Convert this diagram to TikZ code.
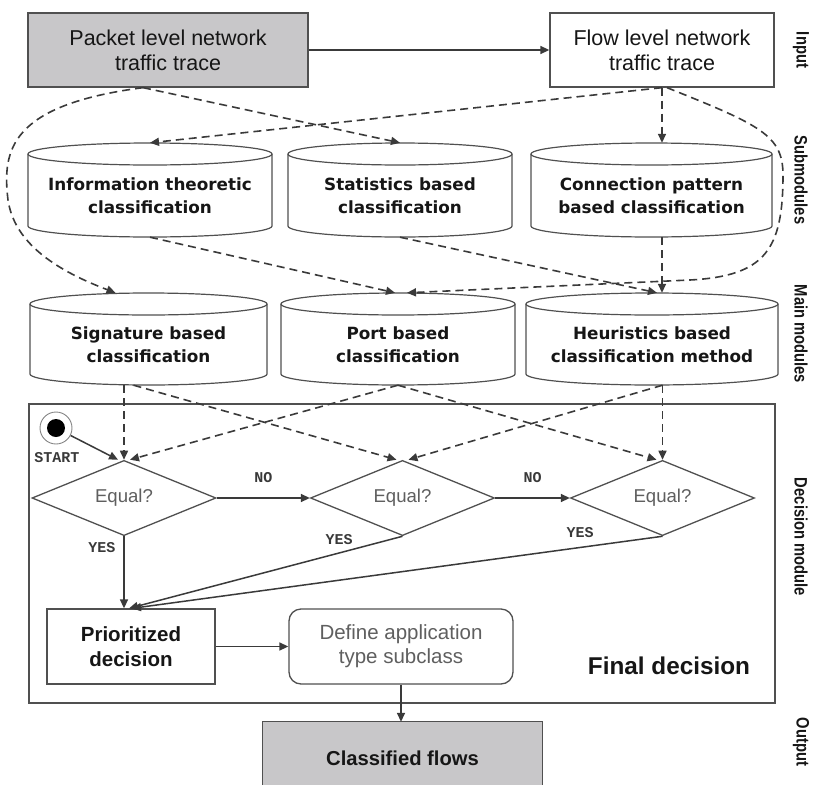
\documentclass[tikz,border=0pt]{standalone}
\usepackage{fontspec}
\setmainfont{Liberation Sans}
\newfontfamily\cylfont{DejaVu Sans}
\newfontfamily\tagfont{Liberation Mono}
\newfontfamily\narrowfont[FakeStretch=0.82]{Liberation Sans}
\usetikzlibrary{arrows.meta,shapes.geometric,calc}

\definecolor{boxgray}{RGB}{200,199,201}
\definecolor{linegray}{RGB}{80,80,80}
\definecolor{dashgray}{RGB}{58,58,58}
\definecolor{inkdark}{RGB}{22,22,22}
\definecolor{softtext}{RGB}{95,95,95}

\tikzset{
  boxline/.style={draw=linegray, line width=1.3pt},
  tracebox/.style={boxline, minimum height=74pt, inner sep=0pt, align=center,
    text=inkdark, font=\fontsize{21.5}{25}\selectfont},
  cylline/.style={draw=linegray, line width=1.2pt},
  cylbody/.style={draw=none, inner sep=0pt},
  cyltext/.style={inner sep=0pt, align=center, text=inkdark,
    font=\cylfont\bfseries\fontsize{16.8}{23}\selectfont},
  conn/.style={draw=dashgray, line width=1.5pt, -{Triangle[length=9pt,width=8pt]}},
  dashconn/.style={conn, line width=1.6pt, dash pattern=on 8pt off 5pt},
  decide/.style={diamond, boxline, fill=white, minimum width=184pt, minimum height=73pt,
    inner sep=0pt, text=softtext, font=\fontsize{18.6}{20}\selectfont},
  tagtext/.style={inner sep=0pt, text=inkdark!85, font=\tagfont\bfseries\fontsize{15}{15}\selectfont},
  sidetag/.style={inner sep=0pt, rotate=-90, text=inkdark,
    font=\narrowfont\bfseries\fontsize{18}{18}\selectfont},
}

% cylinder: name, left, right, top, bottom, label
\newcommand\cylbox[6]{%
  \pgfmathsetmacro\cylrx{(#3-#2)/2}
  \draw[cylline, fill=white] (#2,#4+11) -- (#2,#5-11)
     arc[start angle=180, end angle=360, x radius=\cylrx pt, y radius=11pt]
     -- (#3,#4+11)
     arc[start angle=0, end angle=180, x radius=\cylrx pt, y radius=11pt] -- cycle;
  \draw[cylline] (#2,#4+11)
     arc[start angle=180, end angle=360, x radius=\cylrx pt, y radius=11pt];
  \node[cylbody, minimum width={(#3-#2)*1pt}, minimum height={(#5-#4)*1pt}]
     (#1) at ({(#2+#3)/2},{(#4+#5)/2}) {};
  \node[cyltext] (#1-label) at ({(#2+#3)/2},{(#4+11+#5)/2}) {#6};
}

\begin{document}
\begin{tikzpicture}[x=1pt, y=-1pt]
\useasboundingbox (0,0) rectangle (815,785);

% input traces
\node[tracebox, fill=boxgray, minimum width=280pt] (packet) at (168,50) {Packet level network\\traffic trace};
\node[tracebox, fill=white, minimum width=224pt] (flow) at (662,50) {Flow level network\\traffic trace};

% submodules
\cylbox{info}{28}{272}{143}{237}{Information theoretic\\classification}
\cylbox{stat}{288}{512}{143}{237}{Statistics based\\classification}
\cylbox{conn}{531}{772}{143}{237}{Connection pattern\\based classification}

% main modules
\cylbox{sig}{30}{267}{293}{385}{Signature based\\classification}
\cylbox{port}{281}{515}{293}{385}{Port based\\classification}
\cylbox{heur}{526}{778}{293}{385}{Heuristics based\\classification method}

% decision module
\node[boxline, minimum width=746pt, minimum height=299pt, inner sep=0pt] (decisionframe) at (402,553.5) {};
\node[circle, draw=linegray!70, line width=0.9pt, minimum size=32pt, inner sep=0pt] (start) at (56,428) {};
\fill[black] (start.center) circle[radius=9pt];
\node[tagtext] (startlabel) at (57,458) {START};

\node[decide] (D1) at (124,498) {Equal?};
\node[decide] (D2) at (402.5,498) {Equal?};
\node[decide] (D3) at (662.5,498) {Equal?};

\node[boxline, fill=white, minimum width=168pt, minimum height=75pt, inner sep=0pt, align=center,
  text=inkdark, font=\bfseries\fontsize{20.5}{25}\selectfont] (prio) at (131,646.5) {Prioritized\\decision};
\node[boxline, rounded corners=12pt, fill=white, minimum width=224pt, minimum height=75pt, inner sep=0pt,
  align=center, text=softtext, font=\fontsize{20.5}{24}\selectfont] (define) at (401,646.5) {Define application\\type subclass};
\node[inner sep=0pt, text=inkdark, font=\bfseries\fontsize{24.3}{26}\selectfont] (finaltext) at (669,666) {Final decision};

% output
\node[fill=boxgray, minimum width=279pt, minimum height=63pt, inner sep=0pt, text=inkdark,
  text height=23.7pt, text depth=0pt, font=\bfseries\fontsize{20.2}{22}\selectfont] (classified) at (402.5,753.5) {Classified flows};
\draw[boxline] (classified.south west) -- (classified.north west) -- (classified.north east) -- (classified.south east);

% stage tags on the right
\node[sidetag] (tag-input) at (801,50) {Input};
\node[sidetag] (tag-sub) at (801,180) {Submodules};
\node[sidetag] (tag-main) at (801,334) {Main modules};
\node[sidetag] (tag-decision) at (801,537) {Decision module};
\node[sidetag] (tag-output) at (801,742) {Output};

% traces to submodules and main modules
\draw[conn] (packet) -- (flow);
\draw[dashconn] ([xshift=-25pt]packet.south) -- (stat.north);
\draw[dashconn] ([xshift=-25pt]packet.south) .. controls (10,105) and (2,150) .. (8,200)
   .. controls (14,240) and (50,268) .. ([xshift=-33pt]sig.north);
\draw[dashconn] (flow.south) -- (info.north);
\draw[dashconn] (flow.south) -- (flow.south |- conn.north);
\draw[dashconn] ([xshift=5pt]flow.south) .. controls (760,125) and (783,135) .. (783,175)
   .. controls (783,250) and (765,276) .. (690,280) -- ([xshift=9pt]port.north);

% submodules to main modules
\draw[dashconn] (info.south) -- ([xshift=-3pt]port.north);
\draw[dashconn] (stat.south) -- ($(flow.south |- heur.north)+(-5,0)$);
\draw[dashconn] (flow.south |- conn.south) -- (flow.south |- heur.north);

% main modules to decisions
\draw[dashconn] (D1.north |- sig.south) -- (D1.north);
\draw[dashconn] ([xshift=-15pt]sig.south) -- ([xshift=-6pt]D2.north);
\draw[dashconn] (port.south) -- ([xshift=6pt]D1.north);
\draw[dashconn] (port.south) -- ([xshift=-6pt]D3.north);
\draw[dashconn] (D3.north |- heur.south) -- ([xshift=6pt]D2.north);
\draw[dashconn] (D3.north |- heur.south) -- (D3.north);
\draw[conn] (start) -- ([xshift=-6pt]D1.north);

% decision chain
\draw[conn] (D1.east) -- node[tagtext, above=15pt] (no1) {NO} (D2.west);
\draw[conn] (D2.east) -- node[tagtext, above=15pt] (no2) {NO} (D3.west);
\draw[conn] (D1.south) -- (D1.south |- prio.north);
\draw[conn] (D2.south) -- ([xshift=-2pt]prio.north);
\draw[conn] (D3.south) -- ([xshift=1pt]prio.north);
\node[tagtext] (yes1) at (102,548) {YES};
\node[tagtext] (yes2) at (339,540) {YES};
\node[tagtext] (yes3) at (580,533) {YES};

\draw[conn] (prio) -- (define);
\draw[conn] (define.south) -- (define.south |- classified.north);
\end{tikzpicture}
\end{document}
